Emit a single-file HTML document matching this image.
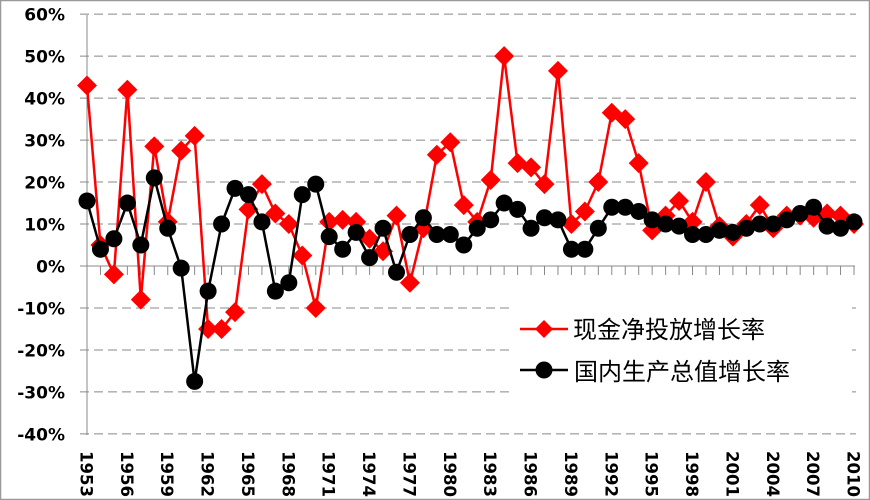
<!DOCTYPE html>
<html><head><meta charset="utf-8"><style>
body{margin:0;background:#fff}
svg{display:block}
</style></head><body>
<svg id="c" width="870" height="500" xmlns="http://www.w3.org/2000/svg"></svg>
<script>
const s=document.getElementById('c');
const X=y=>87+(y-1953)*13.456, Y=v=>266-v*4.197;
let h='<rect x="0.5" y="0.5" width="869" height="499" fill="#fff" stroke="#999" stroke-width="1.5"/>';
for(let v=-40;v<=60;v+=10){
 if(v!==0)h+=`<line x1="80" x2="856" y1="${Y(v)}" y2="${Y(v)}" stroke="#888" stroke-dasharray="9,5"/>`;
 h+=`<text x="65" y="${Y(v)+6.5}" text-anchor="end" font-family="DejaVu Sans,sans-serif" font-weight="bold" font-size="17">${v}%</text>`;
}
h+=`<line x1="87" x2="87" y1="15" y2="435" stroke="#888"/>`;
h+=`<line x1="80" x2="855" y1="266" y2="266" stroke="#888"/>`;
for(let y=1953;y<=2010;y++){h+=`<line x1="${X(y)}" x2="${X(y)}" y1="266" y2="275" stroke="#888"/>`;}
for(let y=1953;y<=2010;y+=3){h+=`<text transform="translate(${X(y)-6.5},451) rotate(90)" font-family="DejaVu Sans,sans-serif" font-weight="bold" font-size="16.5">${y}</text>`;}
const r=[43,5,-2,42,-8,28.5,10.5,27.5,31,-15,-15,-11,13.5,19.5,12.5,10,2.5,-10,10.5,11,10.5,6.5,3.5,12,-4,9,26.5,29.5,14.5,10.5,20.5,50,24.5,23.5,19.5,46.5,10,13,20,36.5,35,24.5,8.5,12,15.5,10.5,20,9.5,7,10,14.5,9,12,12,11.5,12.5,12,10];
const b=[15.5,4,6.5,15,5,21,9,-0.5,-27.5,-6,10,18.5,17,10.5,-6,-4,17,19.5,7,4,8,2,9,-1.5,7.5,11.5,7.5,7.5,5,9,11,15,13.5,9,11.5,11,4,4,9,14,14,13,11,10,9.5,7.5,7.5,8.5,8,9,10,10,11,12.5,14,9.5,9,10.5];
const pts=a=>a.map((v,i)=>X(1953+i).toFixed(1)+','+Y(v).toFixed(1)).join(' ');
h+=`<polyline points="${pts(r)}" fill="none" stroke="#f00" stroke-width="2.5"/>`;
r.forEach((v,i)=>{const x=X(1953+i),y=Y(v);h+=`<polygon points="${x},${y-10} ${x+10},${y} ${x},${y+10} ${x-10},${y}" fill="#f00"/>`;});
h+=`<polyline points="${pts(b)}" fill="none" stroke="#000" stroke-width="2.5"/>`;
b.forEach((v,i)=>{h+=`<circle cx="${X(1953+i)}" cy="${Y(v)}" r="8.5" fill="#000"/>`;});
h+=`<rect x="512" y="305" width="340" height="90" fill="#fff"/>`;
h+=`<line x1="520" x2="568" y1="329" y2="329" stroke="#f00" stroke-width="2.5"/><polygon points="544,320 553,329 544,338 535,329" fill="#f00"/>`;
h+=`<text x="573" y="338" font-family="Noto Sans CJK SC,sans-serif" font-size="24">现金净投放增长率</text>`;
h+=`<line x1="520" x2="568" y1="370" y2="370" stroke="#000" stroke-width="2.5"/><circle cx="544" cy="370" r="8.5" fill="#000"/>`;
h+=`<text x="574" y="380" font-family="Noto Sans CJK SC,sans-serif" font-size="24">国内生产总值增长率</text>`;
s.innerHTML=h;
</script>
</body></html>
